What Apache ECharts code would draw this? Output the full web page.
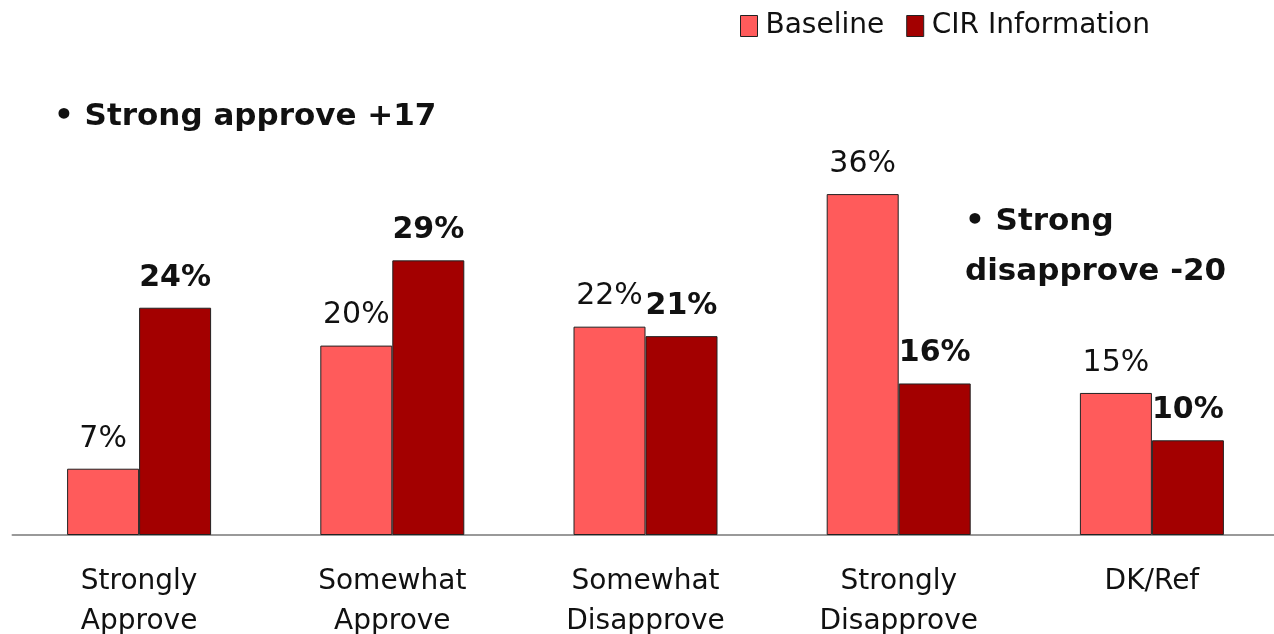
<!DOCTYPE html>
<html><head><meta charset="utf-8">
<script src="https://cdn.jsdelivr.net/npm/echarts@6/dist/echarts.min.js"></script>
<style>html,body{margin:0;padding:0;background:#fff}#c{width:1274px;height:634px}</style>
</head><body><div id="c"></div>
<script>
const categories = ['Strongly\nApprove','Somewhat\nApprove','Somewhat\nDisapprove','Strongly\nDisapprove','DK/Ref'];
const baseline = [7,20,22,36,15];
const cirInfo = [24,29,21,16,10];
const seriesNames = ['Baseline','CIR Information'];
const FONT = 'DejaVu Sans';
const chart = echarts.init(document.getElementById('c'));
chart.setOption({
  animation:false,
  backgroundColor:'#fff',
  textStyle:{fontFamily:FONT},
  legend:{
    data:seriesNames, top:7, left:735, itemWidth:17, itemHeight:21, itemGap:22,
    icon:'rect',
    textStyle:{fontSize:28, color:'#111', fontFamily:FONT, padding:[0,0,0,3]},
    itemStyle:{borderColor:'#222', borderWidth:1}
  },
  grid:{left:12.5, width:1266, top:61.5, height:473.5, containLabel:false, outerBoundsMode:'none'},
  xAxis:{
    type:'category', data:categories,
    axisLine:{lineStyle:{color:'#999', width:2}},
    axisTick:{show:false},
    axisLabel:{fontSize:28, color:'#111', lineHeight:40, margin:27, fontFamily:FONT, interval:0}
  },
  yAxis:{type:'value', min:0, max:50, show:false, splitLine:{show:false}},
  series:[
    {name:seriesNames[0], type:'bar', data:baseline, barWidth:72, barGap:'0%',
     itemStyle:{color:'#FF5B5B', borderColor:'#222', borderWidth:1},
     label:{show:true, position:'top', distance:15, formatter:'{c}%', fontSize:30, color:'#111', fontFamily:FONT}},
    {name:seriesNames[1], type:'bar', data:cirInfo, barWidth:72, barGap:'0%',
     itemStyle:{color:'#A30000', borderColor:'#222', borderWidth:1},
     label:{show:true, position:'top', distance:15, formatter:'{c}%', fontSize:30, fontWeight:'bold', color:'#111', fontFamily:FONT}}
  ],
  graphic:[
    {type:'text', left:54, top:101, style:{text:'• Strong approve +17', font:'bold 31px "DejaVu Sans"', fill:'#111'}},
    {type:'text', left:965, top:197, style:{text:'• Strong\ndisapprove -20', font:'bold 31px "DejaVu Sans"', fill:'#111', lineHeight:50}}
  ]
});
</script></body></html>
